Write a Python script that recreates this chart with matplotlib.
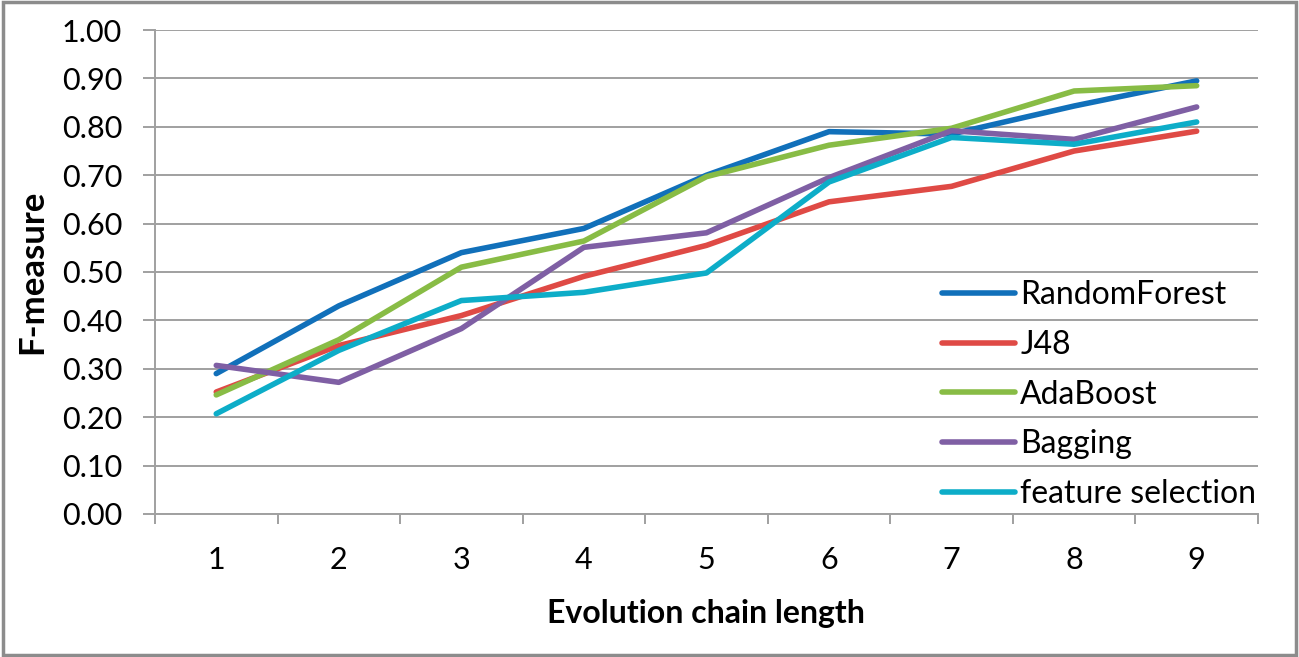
import numpy as np
import matplotlib.pyplot as plt
from matplotlib.patches import Rectangle

plt.rcParams['font.family'] = ['Lato', 'DejaVu Sans']

chain_len = [1, 2, 3, 4, 5, 6, 7, 8, 9]
random_forest = [0.29, 0.43, 0.54, 0.59, 0.70, 0.79, 0.785, 0.843, 0.895]
j48 = [0.252, 0.348, 0.41, 0.491, 0.555, 0.645, 0.677, 0.750, 0.791]
adaboost = [0.246, 0.36, 0.51, 0.564, 0.697, 0.762, 0.797, 0.874, 0.885]
bagging = [0.307, 0.272, 0.383, 0.551, 0.581, 0.695, 0.792, 0.774, 0.841]
feat_sel = [0.207, 0.338, 0.441, 0.458, 0.498, 0.686, 0.778, 0.764, 0.810]

names = ['RandomForest', 'J48', 'AdaBoost', 'Bagging', 'feature selection']
colors = ['#1170BA', '#DF4A45', '#88BC45', '#7F5FA4', '#0DADC8']
series = [random_forest, j48, adaboost, bagging, feat_sel]
y_ticks = np.arange(0, 1.01, 0.1)

fig = plt.figure(figsize=(12.99, 6.57), dpi=100)
ax = fig.add_axes([0.1193, 0.2177, 0.8491, 0.7366])

for vals, name, c in zip(series, names, colors):
    ax.plot(chain_len, vals, color=c, lw=4, label=name,
            solid_capstyle='round', solid_joinstyle='round')

grey = '#A0A0A0'
ax.set_xlim(0.5, 9.5)
ax.set_ylim(0, 1.0)
ax.set_yticks(y_ticks)
ax.set_yticklabels(['%.2f' % v for v in y_ticks])
ax.set_xticks(chain_len)
ax.set_xticks(np.arange(0.5, 9.6, 1), minor=True)
ax.grid(axis='y', color=grey, lw=1.4)
ax.set_axisbelow(True)
for s in ['top', 'right']:
    ax.spines[s].set_visible(False)
for s in ['left', 'bottom']:
    ax.spines[s].set_color(grey)
    ax.spines[s].set_linewidth(1.4)
ax.tick_params(axis='y', length=8.6, width=1.4, color=grey, pad=15, labelsize=22)
ax.tick_params(axis='x', which='major', length=0, pad=23, labelsize=22)
ax.tick_params(axis='x', which='minor', length=7, width=1.4, color=grey)

ax.set_xlabel('Evolution chain length', fontsize=23, fontweight='bold', va='center')
ax.xaxis.set_label_coords(0.4995, -0.2066)
ax.set_ylabel('F-measure', fontsize=25, fontweight='bold', va='center', ha='center')
ax.yaxis.set_label_coords(-0.1115, 0.5)

leg = ax.legend(loc='upper left', bbox_to_anchor=(942 / 1299, 1 - 280 / 657),
                bbox_transform=fig.transFigure, frameon=False, fontsize=23,
                handlelength=2.3, handletextpad=0.15, labelspacing=0.62,
                borderpad=0, borderaxespad=0)

fig.add_artist(Rectangle((0.002, 0.003), 0.996, 0.994, transform=fig.transFigure,
                         fill=False, edgecolor='#8C8C8C', lw=2.5))

fig.savefig('out.png', dpi=100)
